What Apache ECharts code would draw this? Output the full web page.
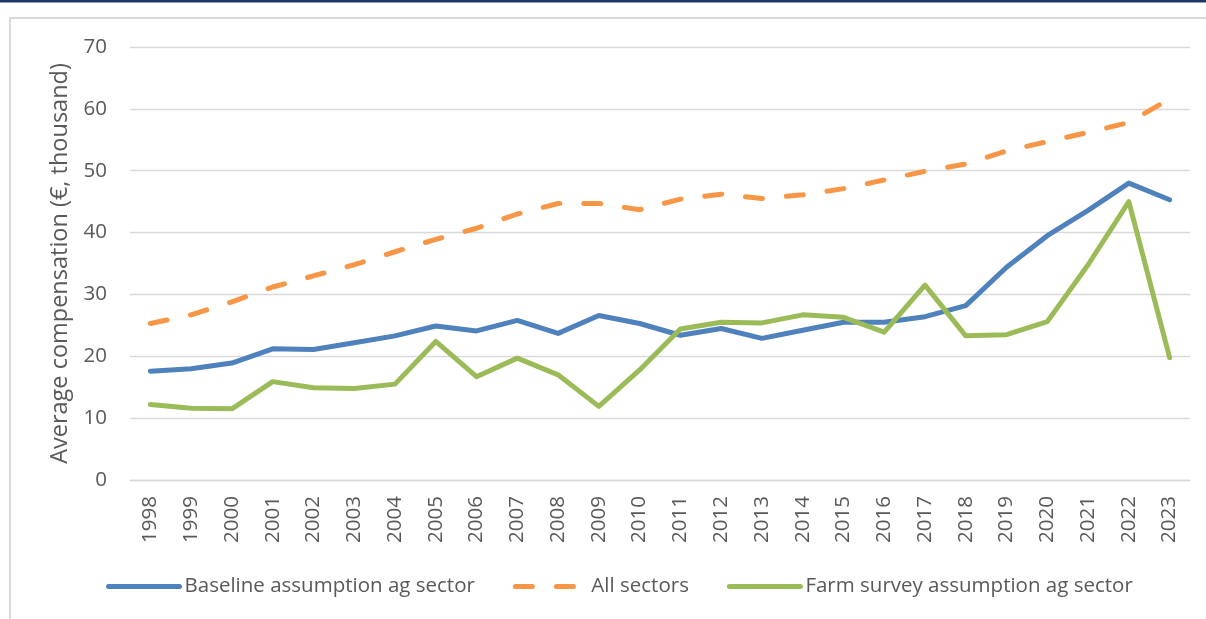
<!DOCTYPE html>
<html>
<head>
<meta charset="utf-8">
<script src="https://cdn.jsdelivr.net/npm/echarts@6/dist/echarts.min.js"></script>
<style>
  html, body { margin: 0; padding: 0; background: #ffffff; }
  #chart { width: 1206px; height: 619px; }
</style>
</head>
<body>
<div id="chart"></div>
<script>
// Year categories (x-axis tick labels)
const years = ['1998','1999','2000','2001','2002','2003','2004','2005','2006','2007','2008','2009','2010',
               '2011','2012','2013','2014','2015','2016','2017','2018','2019','2020','2021','2022','2023'];

// Average compensation, € thousand
const baselineAg = [17.6, 18.0, 18.9, 21.2, 21.1, 22.2, 23.3, 24.9, 24.1, 25.8, 23.7, 26.6, 25.3,
                    23.4, 24.5, 22.9, 24.2, 25.5, 25.5, 26.4, 28.2, 34.4, 39.5, 43.6, 48.0, 45.3];
const allSectors = [25.3, 26.7, 28.8, 31.2, 33.0, 34.8, 36.9, 38.9, 40.7, 43.0, 44.7, 44.7, 43.7,
                    45.4, 46.2, 45.5, 46.1, 47.1, 48.5, 49.9, 51.1, 53.2, 54.7, 56.2, 57.8, 61.6];
const farmSurveyAg = [12.2, 11.6, 11.5, 15.9, 14.9, 14.8, 15.5, 22.4, 16.7, 19.7, 17.0, 11.9, 17.8,
                      24.4, 25.5, 25.4, 26.7, 26.3, 23.9, 31.5, 23.3, 23.5, 25.6, 34.8, 45.0, 19.8];

// Value axis ticks
const yMin = 0, yMax = 70, yStep = 10;

const FONT = '"Open Sans", "Noto Sans", sans-serif';
const TEXT = '#595959';
const GRID = '#d9d9d9';

const chart = echarts.init(document.getElementById('chart'), null, { renderer: 'canvas' });

function lineSeries(name, data, color, type) {
  return {
    name: name,
    type: 'line',
    data: data,
    symbol: 'none',
    smooth: false,
    lineStyle: { color: color, width: 5, type: type, cap: 'round', join: 'round' },
    itemStyle: { color: color }
  };
}

chart.setOption({
  animation: false,
  backgroundColor: '#ffffff',
  graphic: [
    // dark rule across the top of the page
    { type: 'rect', shape: { x: 0, y: 0, width: 1206, height: 2.5 },
      style: { fill: '#1f3864' }, silent: true },
    // light frame around the chart
    { type: 'rect', shape: { x: 10, y: 18, width: 1300, height: 700 },
      style: { fill: 'none', stroke: GRID, lineWidth: 2 }, silent: true, z: -1 }
  ],
  grid: { left: 130, right: 16, top: 47, bottom: 139, containLabel: false },
  legend: {
    left: 106,
    top: 576,
    padding: 0,
    itemWidth: 71,
    itemHeight: 14,
    itemGap: 38,
    itemStyle: { opacity: 0, borderWidth: 0 },
    lineStyle: { width: 5, cap: 'round', join: 'round' },
    textStyle: { color: TEXT, fontSize: 20.5, fontFamily: FONT },
    data: ['Baseline assumption ag sector', 'All sectors', 'Farm survey assumption ag sector']
  },
  xAxis: {
    type: 'category',
    data: years,
    boundaryGap: true,
    axisLine: { show: true, lineStyle: { color: GRID, width: 1.3 } },
    axisTick: { show: false },
    axisLabel: { rotate: 90, margin: 16, color: TEXT, fontSize: 20.5, fontFamily: FONT, interval: 0 },
    splitLine: { show: false }
  },
  yAxis: {
    type: 'value',
    min: yMin,
    max: yMax,
    interval: yStep,
    name: 'Average compensation (€, thousand)',
    nameLocation: 'middle',
    nameRotate: 90,
    nameGap: 55,
    nameTextStyle: { color: TEXT, fontSize: 23.5, fontFamily: FONT },
    axisLine: { show: false },
    axisTick: { show: false },
    axisLabel: { margin: 23, color: TEXT, fontSize: 20.5, fontFamily: FONT },
    splitLine: { show: true, lineStyle: { color: GRID, width: 1.3 } }
  },
  series: [
    lineSeries('Baseline assumption ag sector', baselineAg, '#4f81bd', 'solid'),
    lineSeries('All sectors', allSectors, '#f79646', [17, 24]),
    lineSeries('Farm survey assumption ag sector', farmSurveyAg, '#9bbb59', 'solid')
  ]
});
</script>
</body>
</html>
